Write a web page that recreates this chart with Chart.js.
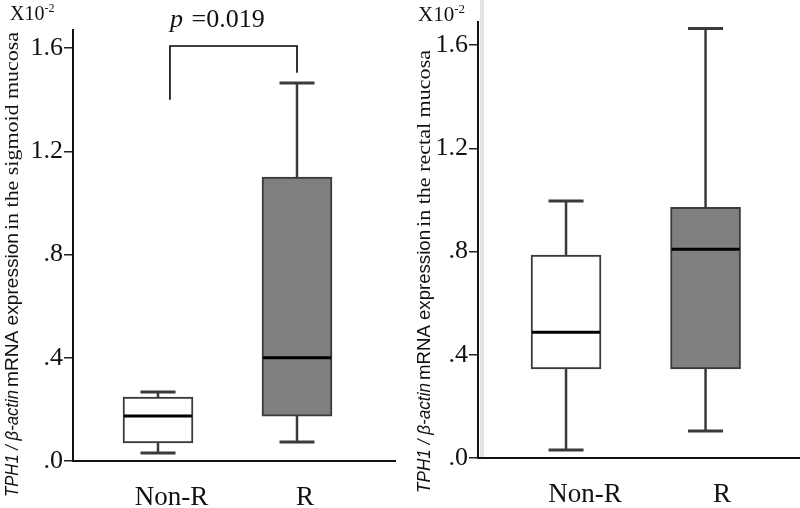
<!DOCTYPE html>
<html>
<head>
<meta charset="utf-8">
<script src="https://cdn.jsdelivr.net/npm/chart.js@4.4.1/dist/chart.umd.min.js"></script>
<style>
  body { margin: 0; background: #fff; width: 800px; height: 508px; overflow: hidden; position: relative; }
  .panel { position: absolute; top: 0; width: 400px; height: 508px; }
</style>
</head>
<body>
<div class="panel" style="left:0"><canvas id="chartSigmoid" width="400" height="508"></canvas></div>
<div class="panel" style="left:400px"><canvas id="chartRectal" width="400" height="508"></canvas></div>
<script>
// ---- DATA (values x10^-2) ----
const groups = ['Non-R', 'R'];
const yTicks = [0, 0.4, 0.8, 1.2, 1.6];
// [lower whisker, Q1, median, Q3, upper whisker]
const sigmoidNonR = [0.031, 0.07, 0.174, 0.248, 0.267];
const sigmoidR = [0.074, 0.174, 0.40, 1.10, 1.465];
const rectalNonR = [0.031, 0.345, 0.487, 0.787, 0.996];
const rectalR = [0.105, 0.345, 0.809, 0.972, 1.665];
const pValue = '0.019';
// bracket between groups (sigmoid panel): [x, y] points in data units
const bracketX = [1.086, 1.086, 2.0, 2.0];
const bracketY = [1.40, 1.608, 1.608, 1.504];

const boxFills = ['#ffffff', '#808080'];
const lineColor = '#3a3a3a';
const serif = '"Liberation Serif", "DejaVu Serif", serif';
const sans = '"Liberation Sans", Arial, sans-serif';

// ---- HELPERS ----
function tickLabel(v) {
  return v.toFixed(1).replace(/^0/, '');
}

// whiskers before the boxes, medians after
const boxParts = {
  id: 'boxParts',
  beforeDatasetsDraw(chart, args, opts) {
    const { ctx, scales: { x, y } } = chart;
    ctx.save();
    ctx.strokeStyle = lineColor;
    opts.stats.forEach((s, i) => {
      const cx = x.getPixelForValue(opts.pos[i]);
      ctx.lineWidth = 2.5;
      ctx.beginPath();
      ctx.moveTo(cx, y.getPixelForValue(s[0]));
      ctx.lineTo(cx, y.getPixelForValue(s[1]));
      ctx.moveTo(cx, y.getPixelForValue(s[3]));
      ctx.lineTo(cx, y.getPixelForValue(s[4]));
      ctx.stroke();
      ctx.lineWidth = 3;
      ctx.beginPath();
      [s[0], s[4]].forEach((v) => {
        const py = y.getPixelForValue(v);
        ctx.moveTo(cx - opts.capWidth / 2, py);
        ctx.lineTo(cx + opts.capWidth / 2, py);
      });
      ctx.stroke();
    });
    ctx.restore();
  },
  afterDatasetsDraw(chart, args, opts) {
    const { ctx, scales: { x, y } } = chart;
    ctx.save();
    ctx.strokeStyle = '#000';
    ctx.lineWidth = 3;
    opts.stats.forEach((s, i) => {
      const cx = x.getPixelForValue(opts.pos[i]);
      const py = y.getPixelForValue(s[2]);
      ctx.beginPath();
      ctx.moveTo(cx - opts.boxWidth / 2 + 1, py);
      ctx.lineTo(cx + opts.boxWidth / 2 - 1, py);
      ctx.stroke();
    });
    if (opts.bracket) {
      ctx.lineWidth = 1.6;
      ctx.beginPath();
      opts.bracket.x.forEach((bx, i) => {
        const px = x.getPixelForValue(bx), py = y.getPixelForValue(opts.bracket.y[i]);
        if (i === 0) ctx.moveTo(px, py); else ctx.lineTo(px, py);
      });
      ctx.stroke();
      // p value text
      ctx.fillStyle = '#111';
      ctx.textBaseline = 'alphabetic';
      ctx.font = 'italic 26px ' + serif;
      ctx.fillText('p', opts.pText.x, opts.pText.y);
      const pw = ctx.measureText('p ').width;
      ctx.font = '26px ' + serif;
      ctx.fillText('=' + pValue, opts.pText.x + pw + 2, opts.pText.y);
    }
    ctx.restore();
  }
};

// rotated y title with mixed fonts, plus the x10^-2 multiplier
const axisText = {
  id: 'axisText',
  beforeDraw(chart, args, opts) {
    const ctx = chart.ctx;
    ctx.save();
    if (opts.band) {
      ctx.fillStyle = '#e4e4e4';
      ctx.fillRect(opts.band.x, 0, opts.band.w, opts.band.h);
    }
    ctx.fillStyle = '#111';
    // multiplier
    ctx.textBaseline = 'alphabetic';
    ctx.font = opts.mult.size + 'px ' + serif;
    ctx.fillText('X10', opts.mult.x, opts.mult.y);
    const w = ctx.measureText('X10').width;
    ctx.font = Math.round(opts.mult.size * 0.6) + 'px ' + serif;
    ctx.fillText('-2', opts.mult.x + w, opts.mult.y - opts.mult.size * 0.4);
    // title segments
    ctx.textBaseline = 'middle';
    opts.segments.forEach((seg) => {
      ctx.save();
      ctx.font = seg.font;
      const natural = ctx.measureText(seg.text).width;
      ctx.translate(opts.titleX, seg.y0);
      ctx.rotate(-Math.PI / 2);
      ctx.scale((seg.y0 - seg.y1) / natural, 1);
      ctx.fillText(seg.text, 0, 0);
      ctx.restore();
    });
    ctx.restore();
  }
};

function titleSegments(place, ys) {
  return [
    { text: 'TPH1 / \u03b2-actin', font: 'italic 18px ' + sans, y0: ys[0], y1: ys[1] },
    { text: 'mRNA expression', font: '18px ' + sans, y0: ys[2], y1: ys[3] },
    { text: 'in the ' + place + ' mucosa', font: '18px ' + serif, y0: ys[4], y1: ys[5] }
  ];
}

// ---- CHARTS ----
function makeBoxChart(canvasId, stats, cfg) {
  const ctx = document.getElementById(canvasId).getContext('2d');
  return new Chart(ctx, {
    type: 'bar',
    data: {
      datasets: [{
        data: stats.map((s, i) => ({ x: cfg.boxPos[i], y: [s[1], s[3]] })),
        backgroundColor: boxFills,
        borderColor: lineColor,
        borderWidth: 2,
        borderSkipped: false,
        barThickness: 70
      }]
    },
    options: {
      responsive: false,
      animation: false,
      layout: { padding: { top: cfg.top, right: cfg.right, left: 0, bottom: 0 } },
      plugins: {
        legend: { display: false },
        tooltip: { enabled: false },
        boxParts: { stats: stats, pos: cfg.boxPos, capWidth: 35, boxWidth: 70, bracket: cfg.bracket, pText: cfg.pText },
        axisText: { segments: cfg.segments, titleX: cfg.titleX, mult: cfg.mult, band: cfg.band }
      },
      scales: {
        x: {
          type: 'linear',
          min: cfg.xMin,
          max: cfg.xMax,
          offset: false,
          grid: { display: false },
          border: { display: true, color: '#111', width: 2 },
          afterBuildTicks: (scale) => { scale.ticks = cfg.labelPos.map((v) => ({ value: v })); },
          afterFit: (scale) => { scale.height = cfg.xHeight; },
          ticks: {
            padding: 13,
            color: '#111',
            font: { family: serif, size: 27 },
            callback: (v, i) => groups[i]
          }
        },
        y: {
          min: 0,
          max: cfg.yMax,
          grid: { drawOnChartArea: false, drawTicks: true, tickLength: 9, color: '#222', lineWidth: 1.5 },
          border: { display: true, color: '#111', width: 2 },
          afterBuildTicks: (scale) => { scale.ticks = yTicks.map((v) => ({ value: v })); },
          afterFit: (scale) => { scale.width = cfg.yWidth; },
          ticks: {
            padding: 1,
            color: '#111',
            font: { family: serif, size: 26 },
            callback: (v) => tickLabel(v)
          }
        }
      }
    },
    plugins: [boxParts, axisText]
  });
}

makeBoxChart('chartSigmoid', [sigmoidNonR, sigmoidR], {
  boxPos: [1, 2], labelPos: [1.097, 2.058], xMin: 0.3885, xMax: 2.705, yMax: 1.67,
  top: 30, right: 5, yWidth: 73, xHeight: 47,
  bracket: { x: bracketX, y: bracketY }, pText: { x: 170, y: 27 },
  titleX: 13, segments: titleSegments('sigmoid', [497, 390, 387, 233, 230, 32]),
  mult: { x: 10, y: 20, size: 20 }
});

makeBoxChart('chartRectal', [rectalNonR, rectalR], {
  boxPos: [1, 2], labelPos: [1.136, 2.118], xMin: 0.369, xMax: 2.677, yMax: 1.69,
  top: 22, right: 0, yWidth: 78, xHeight: 50,
  titleX: 25, segments: titleSegments('rectal', [493, 383, 380, 230, 227, 50]),
  mult: { x: 18, y: 21, size: 21 },
  band: { x: 80, w: 4, h: 458 }
});
</script>
</body>
</html>
